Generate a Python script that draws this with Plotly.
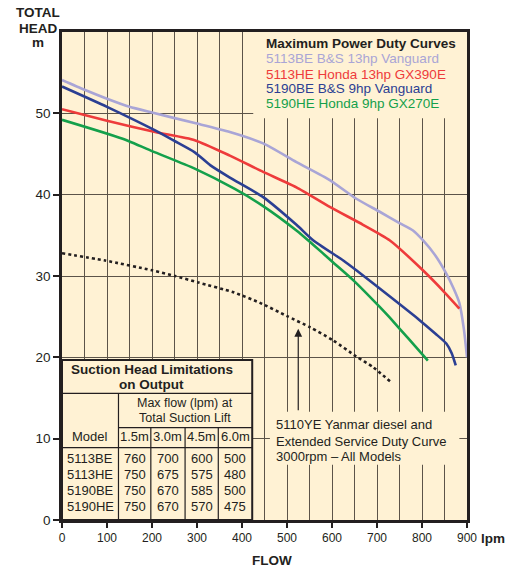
import plotly.graph_objects as go

# ---- Data ----
be13_flow = [0, 50, 100, 150, 200, 295, 373, 447, 521, 595, 654, 706, 750, 780, 802, 830, 854, 870, 883, 893, 900]
be13_head = [54.1, 52.9, 51.8, 50.8, 50.1, 48.8, 47.7, 46.3, 44.0, 41.8, 39.5, 37.9, 36.5, 35.6, 34.4, 32.5, 30.3, 28.5, 26.7, 23.5, 20.0]

he13_flow = [0, 100, 207, 295, 373, 447, 521, 595, 669, 728, 802, 850, 883]
he13_head = [50.5, 49.1, 47.7, 46.7, 44.8, 42.8, 40.9, 38.5, 36.3, 34.4, 30.7, 28.0, 26.0]

be9_flow = [0, 100, 207, 250, 295, 330, 373, 447, 521, 558, 625, 654, 728, 794, 830, 854, 866, 875]
be9_head = [53.3, 50.8, 47.9, 46.6, 45.2, 43.6, 42.1, 39.7, 36.3, 34.4, 31.9, 30.7, 27.5, 24.6, 22.9, 21.7, 20.5, 19.0]

he9_flow = [0, 133, 207, 295, 384, 447, 521, 555, 602, 647, 706, 728, 770, 813]
he9_head = [49.2, 46.9, 45.2, 43.2, 40.7, 38.6, 35.6, 34.0, 31.7, 29.5, 26.2, 24.9, 22.3, 19.6]

ye_flow = [0, 96, 200, 251, 303, 381, 440, 499, 551, 602, 654, 691, 730]
ye_head = [32.8, 31.9, 30.7, 30.0, 29.2, 28.0, 26.7, 25.1, 23.7, 22.1, 20.1, 18.8, 17.0]

series_names = ["5113BE B&S 13hp Vanguard", "5113HE Honda 13hp GX390E",
                "5190BE B&S 9hp Vanguard", "5190HE Honda 9hp GX270E"]
series_colors = ["#A9A5D6", "#EE3B3B", "#2B3F93", "#14A04B"]

x_ticks = [0, 100, 200, 300, 400, 500, 600, 700, 800, 900]
y_ticks = [0, 10, 20, 30, 40, 50]

table_models = ["5113BE", "5113HE", "5190BE", "5190HE"]
table_lifts = ["1.5m", "3.0m", "4.5m", "6.0m"]
table_values = [[760, 700, 600, 500],
                [750, 675, 575, 480],
                [750, 670, 585, 500],
                [750, 670, 570, 475]]

# ---- Styling ----
FONT = "Liberation Sans, Arial, sans-serif"
DARK = "#231F20"
CREAM = "#FFF2D4"
GRID = "#5C5449"

fig = go.Figure()
for fx, fy, nm, col in zip([be13_flow, he13_flow, be9_flow, he9_flow],
                           [be13_head, he13_head, be9_head, he9_head],
                           series_names, series_colors):
    fig.add_trace(go.Scatter(x=fx, y=fy, mode="lines", name=nm,
                             line=dict(color=col, width=2.6, shape="spline", smoothing=0.6),
                             showlegend=False))
fig.add_trace(go.Scatter(x=ye_flow, y=ye_head, mode="lines", name="5110YE",
                         line=dict(color=DARK, width=2.6, dash="dot", shape="spline", smoothing=0.6),
                         showlegend=False))

shapes = []
annots = []

# Legend box (covers gridlines)
shapes.append(dict(type="rect", xref="x", yref="y", x0=425, x1=900, y0=49.4, y1=60,
                   fillcolor=CREAM, line=dict(width=0), layer="above"))
leg_x = 448
annots.append(dict(x=leg_x, y=58.55, xref="x", yref="y", xanchor="left", yanchor="middle",
                   text="<b>Maximum Power Duty Curves</b>", showarrow=False,
                   font=dict(family=FONT, size=13.5, color=DARK)))
for yy, nm, col in zip([56.7, 54.75, 53.0, 51.15], series_names, series_colors):
    annots.append(dict(x=leg_x, y=yy, xref="x", yref="y", xanchor="left", yanchor="middle",
                       text=nm, showarrow=False, font=dict(family=FONT, size=13.5, color=col)))

# Yanmar text box
shapes.append(dict(type="rect", xref="x", yref="y", x0=462, x1=883, y0=6.8, y1=13.3,
                   fillcolor=CREAM, line=dict(width=0), layer="above"))
for yy, t in zip([11.8, 9.65, 7.8], ["5110YE Yanmar diesel and",
                                     "Extended Service Duty Curve",
                                     "3000rpm \u2013 All Models"]):
    annots.append(dict(x=470, y=yy, xref="x", yref="y", xanchor="left", yanchor="middle",
                       text=t, showarrow=False, font=dict(family=FONT, size=13, color=DARK)))
# Arrow
annots.append(dict(x=525, y=23.5, ax=525, ay=13.3, xref="x", yref="y", axref="x", ayref="y",
                   text="", showarrow=True, arrowhead=2, arrowsize=1.3, arrowwidth=1.2,
                   arrowcolor=DARK))

# Table
tl, tr, ttop = 0, 422.7, 19.67
h1, h2, h3 = 15.58, 11.35, 8.89
cols = [125.5, 197.4, 273.5, 347.3, 422.7]
shapes.append(dict(type="rect", xref="x", yref="y", x0=tl, x1=tr, y0=0, y1=ttop,
                   fillcolor=CREAM, line=dict(color=DARK, width=2), layer="above"))
line_style = dict(color=DARK, width=1.2)
shapes.append(dict(type="line", xref="x", yref="y", x0=tl, x1=tr, y0=h1, y1=h1, line=line_style, layer="above"))
shapes.append(dict(type="line", xref="x", yref="y", x0=cols[0], x1=tr, y0=h2, y1=h2, line=line_style, layer="above"))
shapes.append(dict(type="line", xref="x", yref="y", x0=tl, x1=tr, y0=h3, y1=h3, line=line_style, layer="above"))
shapes.append(dict(type="line", xref="x", yref="y", x0=cols[0], x1=cols[0], y0=0, y1=h1, line=line_style, layer="above"))
for cx in cols[1:4]:
    shapes.append(dict(type="line", xref="x", yref="y", x0=cx, x1=cx, y0=0, y1=h2, line=line_style, layer="above"))

def tab_text(x, y, t, size=13, bold=False):
    annots.append(dict(x=x, y=y, xref="x", yref="y", xanchor="center", yanchor="middle",
                       text=f"<b>{t}</b>" if bold else t, showarrow=False,
                       font=dict(family=FONT, size=size, color=DARK)))

tab_text(199, 18.45, "Suction Head Limitations", 13.5, True)
tab_text(199, 16.6, "on Output", 13.5, True)
tab_text(274, 14.35, "Max flow (lpm) at", 12.5)
tab_text(274, 12.6, "Total Suction Lift", 12.5)
tab_text(cols[0] / 2, 10.25, "Model", 13)
centers = [(cols[i] + cols[i + 1]) / 2 for i in range(4)]
for cx, lift in zip(centers, table_lifts):
    tab_text(cx, 10.25, lift, 13)
for ry, model, vals in zip([7.56, 5.58, 3.6, 1.62], table_models, table_values):
    tab_text(cols[0] / 2, ry, model, 13)
    for cx, v in zip(centers, vals):
        tab_text(cx, ry, str(v), 13)

# Axis titles
annots.append(dict(x=-0.0585, y=1.0404, xref="paper", yref="paper", xanchor="center", yanchor="middle",
                   text="<b>TOTAL</b>", showarrow=False, font=dict(family=FONT, size=13.5, color=DARK)))
annots.append(dict(x=-0.0585, y=1.0076, xref="paper", yref="paper", xanchor="center", yanchor="middle",
                   text="<b>HEAD</b>", showarrow=False, font=dict(family=FONT, size=13.5, color=DARK)))
annots.append(dict(x=-0.0585, y=0.9785, xref="paper", yref="paper", xanchor="center", yanchor="middle",
                   text="<b>m</b>", showarrow=False, font=dict(family=FONT, size=13.5, color=DARK)))
annots.append(dict(x=1.0654, y=-0.0369, xref="paper", yref="paper", xanchor="center", yanchor="middle",
                   text="<b>lpm</b>", showarrow=False, font=dict(family=FONT, size=13.5, color=DARK)))
annots.append(dict(x=0.5185, y=-0.084, xref="paper", yref="paper", xanchor="center", yanchor="middle",
                   text="<b>FLOW</b>", showarrow=False, font=dict(family=FONT, size=13.5, color=DARK)))

fig.update_layout(
    width=515, height=572,
    margin=dict(l=62, r=48, t=32, b=52),
    paper_bgcolor="white", plot_bgcolor=CREAM,
    shapes=shapes, annotations=annots,
    font=dict(family=FONT, color=DARK),
    xaxis=dict(range=[0, 900], tickvals=x_ticks, ticktext=[str(v) for v in x_ticks],
               showgrid=True, gridcolor=GRID, gridwidth=1.4,
               minor=dict(dtick=50, tick0=0, showgrid=True, gridcolor=GRID, gridwidth=1.4),
               showline=True, linecolor=DARK, linewidth=2.5, mirror=True,
               ticks="outside", ticklen=5, tickwidth=1.5, tickcolor=DARK,
               tickfont=dict(family=FONT, size=12, color=DARK), zeroline=False, fixedrange=True),
    yaxis=dict(range=[0, 60], tickvals=y_ticks, ticktext=[str(v) for v in y_ticks],
               showgrid=True, gridcolor=GRID, gridwidth=1.4,
               showline=True, linecolor=DARK, linewidth=2.5, mirror=True,
               ticks="outside", ticklen=6, tickwidth=1.5, tickcolor=DARK,
               tickfont=dict(family=FONT, size=13.5, color=DARK), zeroline=False, fixedrange=True),
)

fig.write_html("out.html", config={"displayModeBar": False},
               post_script="document.body.style.margin='0';")
